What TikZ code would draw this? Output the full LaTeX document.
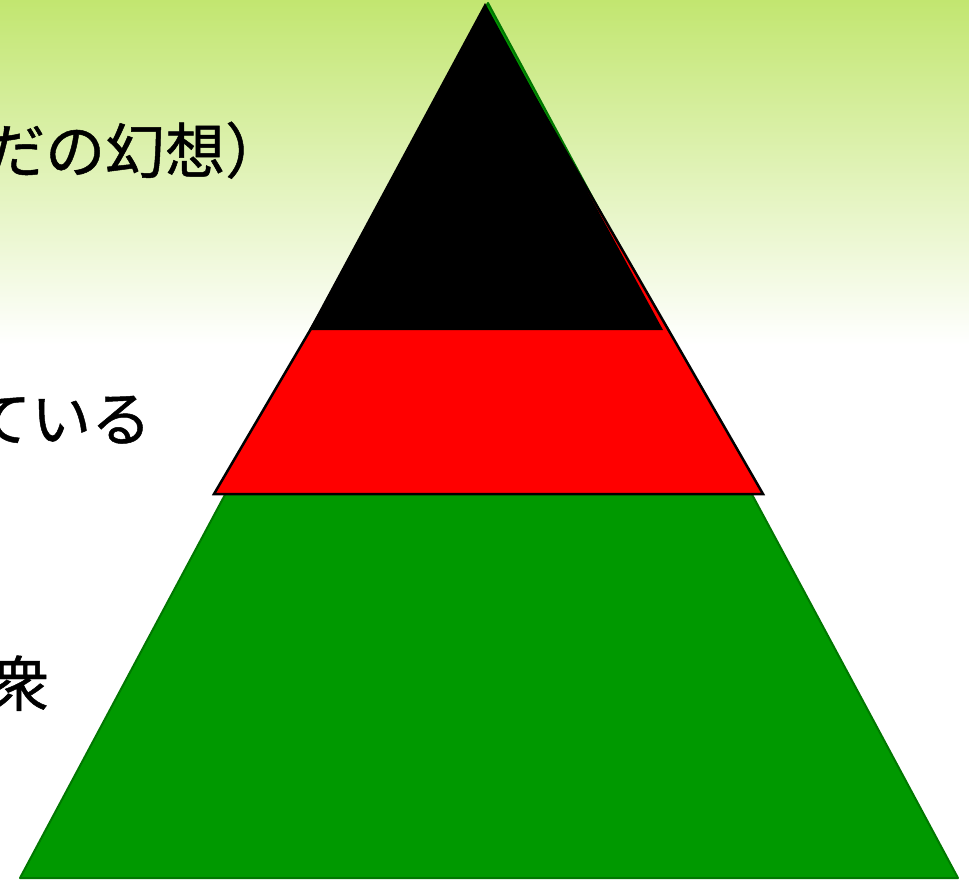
\documentclass[tikz,border=0pt]{standalone}
\usepackage{fontspec}
\newfontfamily\jpfont[FakeBold=0.8]{Noto Sans CJK JP}
\definecolor{bgtop}{RGB}{194,230,112}
\definecolor{pgreen}{RGB}{0,153,0}
\definecolor{pgreenedge}{RGB}{0,120,0}
\tikzset{
  lbl/.style={anchor=base west, inner sep=0pt, font=\jpfont\fontsize{60}{63}\selectfont, text=black},
}
\begin{document}
\begin{tikzpicture}[x=1pt,y=-1pt]
\useasboundingbox (0,0) rectangle (969,883);
\clip (0,0) rectangle (969,883);
% background
\fill[white] (0,0) rectangle (969,883);
\shade[top color=bgtop, bottom color=white] (0,0) rectangle (969,345);
% pyramid layers
\coordinate (gA) at (488,3);
\coordinate (gL) at (20,878);
\coordinate (gR) at (958,878);
\filldraw[fill=pgreen, draw=pgreenedge, line width=2pt, line join=round] (gA) -- (gL) -- (gR) -- cycle;
\coordinate (rA) at (491,22);
\coordinate (rL) at (214,494);
\coordinate (rR) at (763,494);
\filldraw[fill=red, draw=black, line width=2.5pt] (rA) -- (rL) -- (rR) -- cycle;
\coordinate (bA) at (485,3);
\coordinate (bL) at (309,330);
\coordinate (bR) at (663,330);
\fill[black] (bA) -- (bL) -- (bR) -- cycle;
% labels
\node[lbl] (t1) at (-15,173) {だの幻想）};
\node[lbl] (t2) at (-29,441) {ている};
\node[lbl] (t3) at (-11,706) {衆};
\end{tikzpicture}
\end{document}
